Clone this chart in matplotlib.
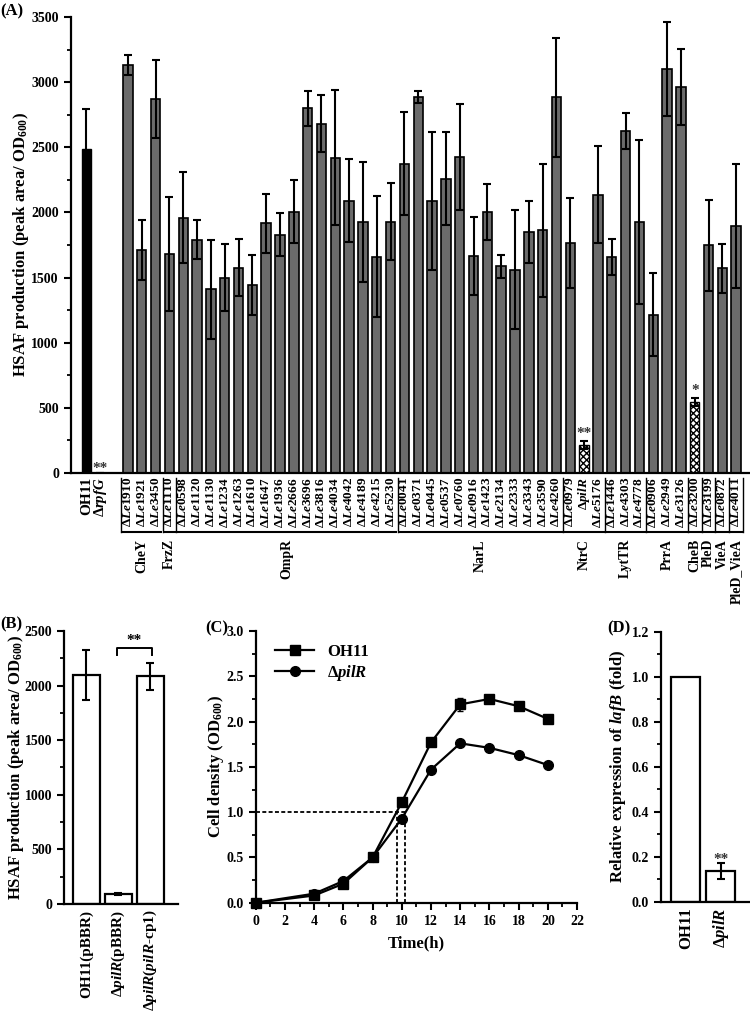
import numpy as np
import matplotlib
matplotlib.use("Agg")
import matplotlib.pyplot as plt
from matplotlib.ticker import MultipleLocator, FormatStrFormatter
import matplotlib.transforms as mtrans

plt.rcParams['font.family'] = 'Liberation Serif'
plt.rcParams['font.weight'] = 'bold'
plt.rcParams['mathtext.fontset'] = 'custom'
plt.rcParams['mathtext.rm'] = 'Liberation Serif:bold'
plt.rcParams['mathtext.it'] = 'Liberation Serif:bold:italic'
plt.rcParams['mathtext.bf'] = 'Liberation Serif:bold'
plt.rcParams['axes.linewidth'] = 1.6
plt.rcParams['xtick.major.width'] = 1.5
plt.rcParams['ytick.major.width'] = 1.5
plt.rcParams['xtick.minor.width'] = 1.3
plt.rcParams['ytick.minor.width'] = 1.3
plt.rcParams['xtick.major.size'] = 5
plt.rcParams['ytick.major.size'] = 5
plt.rcParams['xtick.minor.size'] = 3
plt.rcParams['ytick.minor.size'] = 3

# ---- panel A data ----
ctrl_names = ['OH11', r'$\Delta\mathit{rpfG}$']
ctrl_vals = [2490, 0]
ctrl_err = [300, 0]

genes = ['Le1910', 'Le1921', 'Le3450', 'Le1110',
         'Le0598', 'Le1120', 'Le1130', 'Le1234', 'Le1263', 'Le1610', 'Le1647', 'Le1936',
         'Le2666', 'Le3696', 'Le3816', 'Le4034', 'Le4042', 'Le4189', 'Le4215', 'Le5230',
         'Le0041', 'Le0371', 'Le0445', 'Le0537', 'Le0760', 'Le0916', 'Le1423', 'Le2134',
         'Le2333', 'Le3343', 'Le3590', 'Le4260',
         'Le0979', 'pilR', 'Le5176', 'Le1446', 'Le4303', 'Le4778',
         'Le0906', 'Le2949', 'Le3126', 'Le3200', 'Le3199', 'Le0872', 'Le4011']
mut_vals = [3130, 1710, 2870, 1680,
            1960, 1790, 1410, 1500, 1575, 1440, 1915, 1830,
            2005, 2800, 2680, 2420, 2090, 1925, 1660, 1930,
            2375, 2885, 2085, 2260, 2425, 1665, 2000, 1585,
            1560, 1850, 1862, 2882,
            1762, 215, 2137, 1656, 2625, 1926,
            1216, 3098, 2962, 546, 1748, 1571, 1895]
mut_err = [75, 230, 300, 440,
           350, 150, 380, 260, 220, 230, 230, 165,
           240, 135, 220, 520, 320, 460, 465, 292,
           395, 45, 530, 355, 410, 300, 215, 85,
           455, 240, 510, 455,
           345, 33, 375, 136, 140, 626,
           318, 360, 295, 31, 350, 190, 475]
groups = ['CheY', 'FrzZ', 'OmpR', 'NarL', 'NtrC', 'LytTR', 'PrrA', 'CheB', 'PleD', 'VieA', 'PleD_VieA']
group_sizes = [3, 1, 16, 12, 3, 3, 3, 1, 1, 1, 1]
starred = {'pilR': '**', 'Le3200': '*'}

# ---- panel B data ----
b_names = ['OH11(pBBR)', r'$\Delta\mathit{pilR}$(pBBR)', r'$\Delta\mathit{pilR}$($\mathit{pilR}$-cp1)']
b_vals = [2100, 90, 2085]
b_err = [230, 12, 125]

# ---- panel C data ----
time_h = [0, 4, 6, 8, 10, 12, 14, 16, 18, 20]
od_oh11 = [0.0, 0.08, 0.21, 0.50, 1.11, 1.77, 2.19, 2.25, 2.17, 2.03]
od_oh11_err = [0.0, 0.01, 0.01, 0.01, 0.03, 0.02, 0.07, 0.02, 0.02, 0.02]
od_pilr = [0.0, 0.10, 0.24, 0.50, 0.93, 1.47, 1.76, 1.71, 1.63, 1.52]
od_pilr_err = [0.0, 0.01, 0.01, 0.01, 0.02, 0.03, 0.02, 0.02, 0.02, 0.01]
t_oh11, t_pilr = 9.7, 10.25

# ---- panel D data ----
d_names = ['OH11', r'$\Delta\mathit{pilR}$']
d_vals = [1.0, 0.135]
d_err = [0.0, 0.035]

fig = plt.figure(figsize=(7.5, 10.15), dpi=100)

def style(ax):
    for s in ['top', 'right']:
        ax.spines[s].set_visible(False)
    ax.tick_params(labelsize=10)

# ================= panel A =================
axA = fig.add_axes([0.0943, 0.534, 0.9057, 0.4493])
style(axA)
xc = [0, 1]
xm = list(range(3, 3 + len(genes)))
axA.bar(xc, ctrl_vals, width=0.68, color='black', edgecolor='black', linewidth=1)
axA.errorbar(xc, ctrl_vals, yerr=ctrl_err, fmt='none', ecolor='black', elinewidth=1.5, capsize=3, capthick=1.5)
for i, (g, v, e) in enumerate(zip(genes, mut_vals, mut_err)):
    if g in starred:
        axA.bar(xm[i], v, width=0.68, color='white', edgecolor='black', hatch='xxxxx', linewidth=1)
        axA.text(xm[i], v + e + 5, starred[g], ha='center', va='bottom', fontsize=11, color='#333333')
    else:
        axA.bar(xm[i], v, width=0.68, color='#6b6b6b', edgecolor='black', linewidth=1.2)
axA.errorbar(xm, mut_vals, yerr=mut_err, fmt='none', ecolor='black', elinewidth=1.5, capsize=3, capthick=1.5)
axA.text(1, -15, '**', ha='center', va='bottom', fontsize=11, color='#333333')
axA.set_xlim(-1.14, 48.0)
axA.set_ylim(0, 3500)
axA.yaxis.set_major_locator(MultipleLocator(500))
axA.yaxis.set_minor_locator(MultipleLocator(250))
labels = ctrl_names + [r'$\Delta\mathit{' + g + '}$' for g in genes]
axA.set_xticks(xc + xm)
axA.set_xticklabels(labels, rotation=90, fontsize=9.5)
axA.get_xticklabels()[0].set_fontsize(11)
axA.get_xticklabels()[1].set_fontsize(10.5)
axA.tick_params(axis='x', length=0, pad=3)
axA.set_ylabel(r'HSAF production (peak area/ OD$_{600}$)', fontsize=12, fontweight='bold')
axA.yaxis.set_label_coords(-0.058, 0.5)

trA = mtrans.blended_transform_factory(axA.transData, axA.transAxes)
start = 3
ly = -0.13
for name, n in zip(groups, group_sizes):
    x0, x1 = start - 0.42, start + n - 1 + 0.42
    axA.plot([x0, x1], [ly, ly], color='black', lw=1.5, transform=trA, clip_on=False)
    axA.plot([start - 0.5, start - 0.5], [-0.01, ly], color='black', lw=1.0, transform=trA, clip_on=False)
    axA.text((x0 + x1) / 2, ly - 0.015, name, rotation=90, ha='center', va='top',
             fontsize=10, transform=trA)
    start += n
axA.plot([start - 0.5, start - 0.5], [-0.01, ly], color='black', lw=1.0, transform=trA, clip_on=False)

# ================= panel B =================
axB = fig.add_axes([0.0853, 0.1094, 0.152, 0.2689])
style(axB)
xb = np.arange(len(b_vals))
axB.bar(xb, b_vals, width=0.83, color='white', edgecolor='black', linewidth=1.6)
axB.errorbar(xb, b_vals, yerr=b_err, fmt='none', ecolor='black', elinewidth=1.5, capsize=3, capthick=1.5)
axB.set_xlim(-0.70, 2.86)
axB.set_ylim(0, 2500)
axB.yaxis.set_major_locator(MultipleLocator(500))
axB.yaxis.set_minor_locator(MultipleLocator(250))
axB.set_xticks(xb)
axB.set_xticklabels(b_names, rotation=90, fontsize=11)
axB.tick_params(axis='x', length=0, pad=4)
axB.set_ylabel(r'HSAF production (peak area/ OD$_{600}$)', fontsize=12, fontweight='bold')
axB.yaxis.set_label_coords(-0.33, 0.5)
axB.plot([0.95, 0.95, 2.05, 2.05], [2280, 2340, 2340, 2280], color='black', lw=1.4)
axB.text(1.5, 2350, '**', ha='center', va='bottom', fontsize=11)

# ================= panel C =================
axC = fig.add_axes([0.341, 0.1106, 0.4284, 0.2677])
style(axC)
axC.errorbar(time_h, od_oh11, yerr=od_oh11_err, fmt='none', ecolor='black', elinewidth=1.2,
             capsize=2.5, clip_on=False, zorder=3)
axC.errorbar(time_h, od_pilr, yerr=od_pilr_err, fmt='none', ecolor='black', elinewidth=1.2,
             capsize=2.5, clip_on=False, zorder=3)
axC.plot(time_h, od_oh11, color='black', marker='s', ms=6.5, lw=1.6, label='OH11',
         clip_on=False, zorder=4)
axC.plot(time_h, od_pilr, color='black', marker='o', ms=7, lw=1.6, label=r'$\Delta\mathit{pilR}$',
         clip_on=False, zorder=4)
axC.plot([0, t_pilr], [1.0, 1.0], color='black', ls=(0, (2.2, 1.3)), lw=1.3)
axC.plot([t_oh11, t_oh11], [0, 1.0], color='black', ls=(0, (2.2, 1.3)), lw=1.3)
axC.plot([t_pilr, t_pilr], [0, 1.0], color='black', ls=(0, (2.2, 1.3)), lw=1.3)
axC.set_xlim(0, 22)
axC.set_ylim(0, 3.0)
axC.xaxis.set_major_locator(MultipleLocator(2))
axC.xaxis.set_minor_locator(MultipleLocator(1))
axC.yaxis.set_major_locator(MultipleLocator(0.5))
axC.yaxis.set_minor_locator(MultipleLocator(0.25))
axC.yaxis.set_major_formatter(FormatStrFormatter('%.1f'))
axC.set_xlabel('Time(h)', fontsize=12, fontweight='bold', labelpad=6)
axC.set_ylabel(r'Cell density (OD$_{600}$)', fontsize=12, fontweight='bold')
axC.yaxis.set_label_coords(-0.092, 0.5)
axC.legend(loc='upper left', bbox_to_anchor=(0.03, 0.99), frameon=False, fontsize=12,
           handlelength=2.3, borderaxespad=0.2, labelspacing=0.2)

# ================= panel D =================
axD = fig.add_axes([0.881, 0.1116, 0.119, 0.266])
style(axD)
xd = np.arange(len(d_vals))
axD.bar(xd, d_vals, width=0.83, color='white', edgecolor='black', linewidth=1.6)
axD.errorbar(xd[1:], d_vals[1:], yerr=d_err[1:], fmt='none', ecolor='black', elinewidth=1.5,
             capsize=3, capthick=1.5)
axD.text(1, d_vals[1] + d_err[1] - 0.01, '**', ha='center', va='bottom', fontsize=11, color='#333333')
axD.set_xlim(-0.72, 1.83)
axD.set_ylim(0, 1.2)
axD.yaxis.set_major_locator(MultipleLocator(0.2))
axD.yaxis.set_minor_locator(MultipleLocator(0.1))
axD.yaxis.set_major_formatter(FormatStrFormatter('%.1f'))
axD.set_xticks(xd)
axD.set_xticklabels(d_names, rotation=90, fontsize=12)
axD.tick_params(axis='x', length=0, pad=4)
axD.set_ylabel(r'Relative expression of $\mathit{lafB}$ (fold)', fontsize=12, fontweight='bold')
axD.yaxis.set_label_coords(-0.37, 0.5)

for ax in [axA, axB, axC, axD]:
    for lab in ax.get_yticklabels() + ax.get_xticklabels():
        lab.set_fontweight('bold')

fig.text(0.0, 1 - 11 / 1015, '(A)', fontsize=12, fontweight='bold', va='center')
fig.text(0.0, 1 - 624 / 1015, '(B)', fontsize=12, fontweight='bold', va='center')
fig.text(0.273, 1 - 628 / 1015, '(C)', fontsize=12, fontweight='bold', va='center')
fig.text(0.81, 1 - 628 / 1015, '(D)', fontsize=12, fontweight='bold', va='center')

fig.savefig('out.png', dpi=100)
